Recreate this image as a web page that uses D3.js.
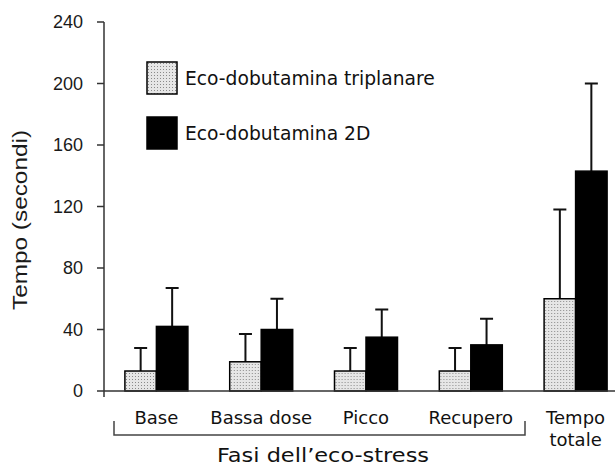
<!DOCTYPE html>
<html>
<head>
<meta charset="utf-8">
<script src="https://cdn.jsdelivr.net/npm/d3@7"></script>
<style>
  body { margin: 0; background: #fff; }
  svg { display: block; }
</style>
</head>
<body>
<script>
const width = 615;
const height = 467;

const categories = ["Base", "Bassa dose", "Picco", "Recupero", "Tempo totale"];
const seriesNames = ["Eco-dobutamina triplanare", "Eco-dobutamina 2D"];
const triplanare = [13, 19, 13, 13, 60];
const triplanareErr = [28, 37, 28, 28, 118];
const bidim = [42, 40, 35, 30, 143];
const bidimErr = [67, 60, 53, 47, 200];
const yTicks = [0, 40, 80, 120, 160, 200, 240];

const svg = d3.select("body").append("svg")
	.attr("width", width)
	.attr("height", height);

// stipple pattern for the triplanar bars
const pat = svg.append("defs").append("pattern")
	.attr("id", "dots")
	.attr("patternUnits", "userSpaceOnUse")
	.attr("width", 3).attr("height", 3);
pat.append("rect").attr("width", 3).attr("height", 3).attr("fill", "#e6e6e6");
pat.append("rect").attr("x", 1).attr("y", 1).attr("width", 1).attr("height", 1).attr("fill", "#8a8a8a");

const y = d3.scaleLinear().domain([0, 240]).range([391, 22]);
const x0 = d3.scaleBand().domain(categories).range([104, 628]);
const barW = 31.5;
const x1 = d3.scaleBand().domain([0, 1])
	.range([x0.bandwidth() / 2 - barW, x0.bandwidth() / 2 + barW]);

const rows = categories.map((c, i) => ({
	cat: c,
	vals: [
		{ s: 0, v: triplanare[i], e: triplanareErr[i] },
		{ s: 1, v: bidim[i], e: bidimErr[i] }
	]
}));

// y axis
const axisX = 104;
svg.append("line")
	.attr("x1", axisX).attr("x2", axisX)
	.attr("y1", y(240)).attr("y2", 397)
	.attr("stroke", "#333").attr("stroke-width", 1.5);
svg.selectAll(".tick").data(yTicks).enter().append("line")
	.attr("x1", axisX - 7).attr("x2", axisX)
	.attr("y1", d => y(d)).attr("y2", d => y(d))
	.attr("stroke", "#333").attr("stroke-width", 1.5);
svg.selectAll(".tlab").data(yTicks).enter().append("text")
	.attr("x", 83).attr("y", d => y(d) + 6)
	.attr("text-anchor", "end")
	.attr("font-family", "Liberation Sans, Arial, sans-serif")
	.attr("font-size", 18)
	.attr("fill", "#1a1a1a")
	.text(d => d);

svg.append("text")
	.attr("transform", "translate(27,220) rotate(-90)")
	.attr("text-anchor", "middle")
	.attr("font-family", "Liberation Sans, Arial, sans-serif")
	.attr("font-size", 20)
	.attr("textLength", 180).attr("lengthAdjust", "spacingAndGlyphs")
	.attr("fill", "#1a1a1a")
	.text("Tempo (secondi)");

// bars
const g = svg.selectAll(".grp").data(rows).enter().append("g")
	.attr("transform", d => `translate(${x0(d.cat)},0)`);

g.selectAll(".err").data(d => d.vals).enter().append("path")
	.attr("d", d => {
		const cx = x1(d.s) + barW / 2;
		return `M${cx},${y(d.v)}V${y(d.e)}M${cx - 6.5},${y(d.e)}H${cx + 6.5}`;
	})
	.attr("fill", "none").attr("stroke", "#111").attr("stroke-width", 2);

g.selectAll(".bar").data(d => d.vals).enter().append("rect")
	.attr("x", d => x1(d.s))
	.attr("width", barW)
	.attr("y", d => y(d.v))
	.attr("height", d => y(0) - y(d.v))
	.attr("fill", d => d.s === 0 ? "url(#dots)" : "#000")
	.attr("stroke", "#000").attr("stroke-width", 1.5);

// baseline
svg.append("line")
	.attr("x1", axisX).attr("x2", width)
	.attr("y1", y(0)).attr("y2", y(0))
	.attr("stroke", "#333").attr("stroke-width", 1.5);

// category labels
const labelFont = "DejaVu Sans, Verdana, sans-serif";
g.append("text")
	.attr("x", x0.bandwidth() / 2)
	.attr("text-anchor", "middle")
	.attr("font-family", labelFont)
	.attr("font-size", 18)
	.attr("fill", "#111")
	.selectAll("tspan").data(d => d.cat === "Tempo totale" ? ["Tempo", "totale"] : [d.cat])
	.enter().append("tspan")
	.attr("x", x0.bandwidth() / 2)
	.attr("y", (d, i) => 424 + i * 22)
	.text(d => d);

// bracket under the stress phases
const bx1 = 114, bx2 = 525, by = 435;
svg.append("path")
	.attr("d", `M${bx1},${by - 14}V${by}H${bx2}V${by - 14}`)
	.attr("fill", "none").attr("stroke", "#444").attr("stroke-width", 1.5);

svg.append("text")
	.attr("x", 323).attr("y", 462)
	.attr("text-anchor", "middle")
	.attr("font-family", labelFont)
	.attr("font-size", 19)
	.attr("textLength", 212).attr("lengthAdjust", "spacingAndGlyphs")
	.attr("fill", "#111")
	.text("Fasi dell\u2019eco-stress");

// legend
const legend = svg.selectAll(".leg").data(seriesNames).enter().append("g")
	.attr("transform", (d, i) => `translate(147,${62 + i * 55})`);
legend.append("rect")
	.attr("width", 30).attr("height", 32)
	.attr("fill", (d, i) => i === 0 ? "url(#dots)" : "#000")
	.attr("stroke", "#000").attr("stroke-width", 1.5);
legend.append("text")
	.attr("x", 38).attr("y", 23)
	.attr("font-family", labelFont)
	.attr("font-size", 18.7)
	.attr("fill", "#111")
	.text(d => d);
</script>
</body>
</html>
